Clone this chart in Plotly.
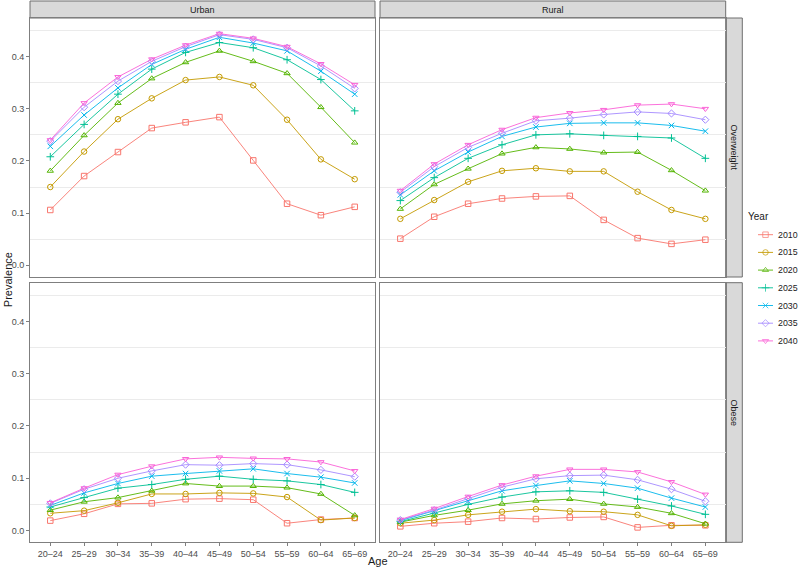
import plotly.graph_objects as go

ages = ["20\u201324", "25\u201329", "30\u201334", "35\u201339", "40\u201344",
        "45\u201349", "50\u201354", "55\u201359", "60\u201364", "65\u201369"]
years = ["2010", "2015", "2020", "2025", "2030", "2035", "2040"]

urban_overweight = {
    "2010": [0.106, 0.171, 0.217, 0.263, 0.274, 0.284, 0.201, 0.118, 0.096, 0.112],
    "2015": [0.150, 0.218, 0.280, 0.320, 0.355, 0.361, 0.345, 0.279, 0.203, 0.165],
    "2020": [0.181, 0.249, 0.311, 0.358, 0.389, 0.411, 0.391, 0.368, 0.303, 0.235],
    "2025": [0.208, 0.270, 0.328, 0.376, 0.408, 0.427, 0.417, 0.394, 0.356, 0.296],
    "2030": [0.228, 0.288, 0.340, 0.385, 0.414, 0.437, 0.426, 0.411, 0.372, 0.328],
    "2035": [0.238, 0.303, 0.353, 0.391, 0.419, 0.442, 0.433, 0.417, 0.382, 0.339],
    "2040": [0.240, 0.311, 0.361, 0.395, 0.422, 0.444, 0.435, 0.419, 0.386, 0.346],
}
rural_overweight = {
    "2010": [0.051, 0.093, 0.118, 0.128, 0.132, 0.133, 0.087, 0.052, 0.041, 0.049],
    "2015": [0.089, 0.125, 0.160, 0.181, 0.186, 0.180, 0.180, 0.141, 0.106, 0.089],
    "2020": [0.108, 0.155, 0.185, 0.214, 0.226, 0.223, 0.216, 0.217, 0.182, 0.143],
    "2025": [0.124, 0.168, 0.205, 0.231, 0.250, 0.252, 0.249, 0.247, 0.244, 0.205],
    "2030": [0.135, 0.181, 0.217, 0.247, 0.265, 0.272, 0.273, 0.273, 0.268, 0.257],
    "2035": [0.140, 0.189, 0.226, 0.253, 0.277, 0.282, 0.289, 0.294, 0.291, 0.279],
    "2040": [0.143, 0.194, 0.231, 0.260, 0.283, 0.292, 0.298, 0.307, 0.309, 0.300],
}
urban_obese = {
    "2010": [0.019, 0.032, 0.051, 0.052, 0.060, 0.061, 0.059, 0.014, 0.021, 0.024],
    "2015": [0.033, 0.038, 0.053, 0.070, 0.070, 0.072, 0.071, 0.064, 0.020, 0.024],
    "2020": [0.039, 0.055, 0.063, 0.076, 0.090, 0.085, 0.085, 0.082, 0.070, 0.029],
    "2025": [0.045, 0.063, 0.081, 0.088, 0.098, 0.104, 0.098, 0.095, 0.088, 0.073],
    "2030": [0.048, 0.072, 0.090, 0.104, 0.109, 0.114, 0.118, 0.109, 0.102, 0.091],
    "2035": [0.052, 0.079, 0.100, 0.114, 0.126, 0.125, 0.128, 0.126, 0.116, 0.103],
    "2040": [0.053, 0.081, 0.107, 0.123, 0.137, 0.140, 0.138, 0.137, 0.131, 0.114],
}
rural_obese = {
    "2010": [0.008, 0.014, 0.017, 0.024, 0.022, 0.025, 0.026, 0.006, 0.010, 0.010],
    "2015": [0.014, 0.020, 0.030, 0.036, 0.041, 0.037, 0.036, 0.030, 0.009, 0.011],
    "2020": [0.016, 0.029, 0.039, 0.051, 0.057, 0.060, 0.051, 0.045, 0.033, 0.013],
    "2025": [0.017, 0.033, 0.050, 0.064, 0.074, 0.076, 0.073, 0.060, 0.047, 0.031],
    "2030": [0.019, 0.038, 0.056, 0.076, 0.086, 0.095, 0.090, 0.081, 0.062, 0.045],
    "2035": [0.020, 0.039, 0.061, 0.083, 0.099, 0.105, 0.106, 0.097, 0.079, 0.056],
    "2040": [0.021, 0.042, 0.065, 0.087, 0.104, 0.117, 0.117, 0.112, 0.093, 0.069],
}

y_ticks = [0.0, 0.1, 0.2, 0.3, 0.4]
y_minor = [0.05, 0.15, 0.25, 0.35, 0.45]

colors = ["#F8766D", "#C49A00", "#53B400", "#00C094", "#00B6EB", "#A58AFF", "#FB61D7"]
symbols = ["square-open", "circle-open", "triangle-up-open", "cross-thin-open",
           "x-thin-open", "diamond-open", "triangle-down-open"]

W, H = 800, 569
def px(x): return x / W
def py(y): return 1 - y / H

# panel pixel boxes
LX = (30, 375)
RX = (380, 725.7)
TY = (18, 277)
BY = (282.7, 542.3)
STRIP_R = 742.3

panels = [
    ("x", "y", LX, TY, urban_overweight),
    ("x2", "y2", RX, TY, rural_overweight),
    ("x3", "y3", LX, BY, urban_obese),
    ("x4", "y4", RX, BY, rural_obese),
]

fig = go.Figure()
for xa, ya, xb, yb, data in panels:
    for i, yr in enumerate(years):
        fig.add_trace(go.Scatter(
            x=ages, y=data[yr], xaxis=xa, yaxis=ya, name=yr,
            showlegend=False, mode="lines+markers",
            line=dict(color=colors[i], width=0.9),
            marker=dict(symbol=symbols[i], size=5.5, color=colors[i],
                        line=dict(width=1, color=colors[i])),
        ))

# manual legend (ggplot-style keys) on a hidden axis
LEG_TOP = 234.7
LEG_STEP = 17.7
for i, yr in enumerate(years):
    fig.add_trace(go.Scatter(
        x=[0, 0.5, 1], y=[i, i, i], xaxis="x5", yaxis="y5", showlegend=False,
        mode="lines+markers", hoverinfo="skip",
        line=dict(color=colors[i], width=0.9),
        marker=dict(symbol=symbols[i], size=[0, 5.5, 0], color=colors[i],
                    line=dict(width=1, color=colors[i])),
    ))

font_tick = dict(family="Liberation Sans, Arial, sans-serif", size=9, color="#4D4D4D")
layout = dict(
    width=W, height=H, margin=dict(l=0, r=0, t=0, b=0, autoexpand=False),
    paper_bgcolor="white", plot_bgcolor="white",
    font=dict(family="Liberation Sans, Arial, sans-serif", size=10, color="#1A1A1A"),
    showlegend=False,
)
for k, (xa, ya, xb, yb, data) in enumerate(panels):
    xname = "xaxis" if xa == "x" else "xaxis" + xa[1:]
    yname = "yaxis" if ya == "y" else "yaxis" + ya[1:]
    bottom = k >= 2
    left = k % 2 == 0
    layout[xname] = dict(
        domain=[px(xb[0]), px(xb[1])], anchor=ya, type="category",
        categoryorder="array", categoryarray=ages,
        range=[-0.6, 9.6], showgrid=False, zeroline=False,
        showline=True, mirror=True, linecolor="#7F7F7F", linewidth=1,
        ticks="outside" if bottom else "", ticklen=3, tickcolor="#7F7F7F",
        showticklabels=bottom, tickfont=font_tick,
    )
    layout[yname] = dict(
        domain=[py(yb[1]), py(yb[0])], anchor=xa,
        range=[-0.0225, 0.474], showgrid=False, zeroline=False,
        tickvals=y_ticks, ticktext=[f"{v:.1f}" for v in y_ticks],
        showline=True, mirror=True, linecolor="#7F7F7F", linewidth=1,
        ticks="outside" if left else "", ticklen=3, tickcolor="#7F7F7F",
        showticklabels=left, tickfont=font_tick,
        minor=dict(tickvals=y_minor, showgrid=True, gridcolor="#EBEBEB",
                   gridwidth=1, ticks=""),
    )
# legend axis: keys from 758 to 773 px, rows spaced LEG_STEP
n = len(years)
layout["xaxis5"] = dict(domain=[px(758), px(773)], anchor="y5", range=[0, 1],
                        visible=False, fixedrange=True)
y_top_px = LEG_TOP - LEG_STEP / 2
y_bot_px = LEG_TOP + LEG_STEP * (n - 1) + LEG_STEP / 2
layout["yaxis5"] = dict(domain=[py(y_bot_px), py(y_top_px)], anchor="x5",
                        range=[n - 0.5, -0.5], visible=False, fixedrange=True)
fig.update_layout(**layout)

shapes = []
annotations = []
strip_font = dict(family="Liberation Sans, Arial, sans-serif", size=9, color="#1A1A1A")
for (x0, x1), label in [(LX, "Urban"), (RX, "Rural")]:
    shapes.append(dict(type="rect", xref="paper", yref="paper",
                       x0=px(x0), x1=px(x1), y0=py(TY[0]), y1=py(1),
                       fillcolor="#D9D9D9", line=dict(color="#6E6E6E", width=1),
                       layer="below"))
    annotations.append(dict(text=label, xref="paper", yref="paper",
                            x=px((x0 + x1) / 2), y=py((TY[0] + 1) / 2),
                            showarrow=False, font=strip_font,
                            xanchor="center", yanchor="middle"))
for (y0, y1), label in [(TY, "Overweight"), (BY, "Obese")]:
    shapes.append(dict(type="rect", xref="paper", yref="paper",
                       x0=px(RX[1]), x1=px(STRIP_R), y0=py(y1), y1=py(y0),
                       fillcolor="#D9D9D9", line=dict(color="#6E6E6E", width=1),
                       layer="below"))
    annotations.append(dict(text=label, xref="paper", yref="paper",
                            x=px((RX[1] + STRIP_R) / 2), y=py((y0 + y1) / 2),
                            showarrow=False, font=strip_font, textangle=90,
                            xanchor="center", yanchor="middle"))
annotations.append(dict(text="Age", xref="paper", yref="paper",
                        x=px((LX[0] + RX[1]) / 2), y=py(561), showarrow=False,
                        font=dict(size=11, color="#1A1A1A"),
                        xanchor="center", yanchor="middle"))
annotations.append(dict(text="Prevalence", xref="paper", yref="paper",
                        x=px(8), y=py((TY[0] + BY[1]) / 2), showarrow=False,
                        font=dict(size=11, color="#1A1A1A"), textangle=-90,
                        xanchor="center", yanchor="middle"))
annotations.append(dict(text="Year", xref="paper", yref="paper",
                        x=px(746), y=py(LEG_TOP - 18), showarrow=False,
                        font=dict(size=10, color="#1A1A1A"),
                        xanchor="left", yanchor="middle"))
for i, yr in enumerate(years):
    annotations.append(dict(text=yr, xref="paper", yref="paper",
                            x=px(776), y=py(LEG_TOP + LEG_STEP * i), showarrow=False,
                            font=dict(size=8.8, color="#1A1A1A"),
                            xanchor="left", yanchor="middle"))
fig.update_layout(shapes=shapes, annotations=annotations)

fig.write_html(
    "out.html",
    config={"displayModeBar": False},
    post_script="document.body.style.margin='0';document.body.style.padding='0';",
)
